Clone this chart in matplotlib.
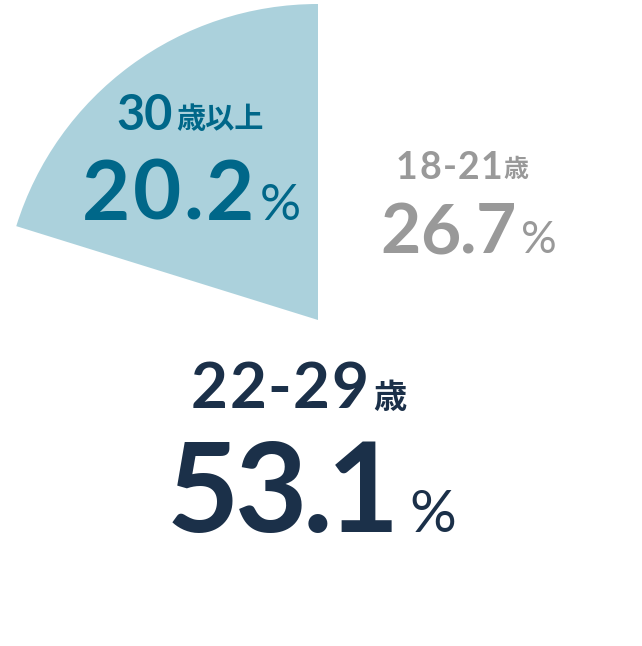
import matplotlib.pyplot as plt
from matplotlib import font_manager
from matplotlib.ft2font import FT2Font

# 年齢構成
labels = ['18-21', '22-29', '30']
suffixes = ['歳', '歳', '歳以上']
values = [26.7, 53.1, 20.2]
wedge_colors = ['white', 'white', '#abd1dc']
text_colors = ['#999999', '#1b3049', '#006789']

W, H = 642, 646
DPI = 100
fig = plt.figure(figsize=(W / DPI, H / DPI), dpi=DPI)

# pie center (318, 320) px, radius 316 px
cx, cy, r = 318, 320, 316
ax = fig.add_axes([0, 0, 1, 1])
ax.pie(values, colors=wedge_colors, startangle=90, counterclock=False,
       radius=1, wedgeprops=dict(linewidth=0))
ax.set_xlim(-cx / r, (W - cx) / r)
ax.set_ylim(-(H - cy) / r, cy / r)
ax.axis('off')

fam = ['Lato', 'Noto Sans CJK JP']
jp = ['Noto Sans CJK JP', 'DejaVu Sans']


def put(x, y, s, size, color, weight='bold', family=fam):
    return fig.text(x / W, 1 - y / H, s, fontsize=size, color=color,
                    fontweight=weight, family=family, ha='left', va='baseline')


def metrics(s, size, weight):
    path = font_manager.findfont(font_manager.FontProperties(family='Lato', weight=weight))
    font = FT2Font(path, hinting_factor=1)
    font.set_size(size, DPI)
    out = []
    for ch in s:
        g = font.load_char(ord(ch))
        out.append((g.linearHoriAdvance / 65536, g.horiBearingX / 64, g.width / 64))
    return out


def place(x0, x1, y, s, size, color, weight='bold'):
    # インクの左端を x0、右端を x1 に合わせて字間を調整
    m = metrics(s, size, weight)
    n = len(s)
    if x1 is None or n == 1:
        put(x0 - m[0][1], y, s, size, color, weight)
        return
    natural = sum(a for a, _, _ in m[:-1]) + m[-1][1] + m[-1][2] - m[0][1]
    track = (x1 - x0 - natural) / (n - 1)
    x = x0 - m[0][1]
    for i, ch in enumerate(s):
        put(x, y, ch, size, color, weight)
        x += m[i][0] + track


# 18-21歳
c = text_colors[0]
place(398, 500, 179, labels[0], 27, c)
put(503, 177, suffixes[0], 18, c, family=jp)
place(383, 513, 253, f'{values[0]:.1f}', 50, c)
place(523, None, 253, '%', 32, c, weight='normal')

# 22-29歳
c = text_colors[1]
place(193, 365, 408, labels[1], 46, c)
put(373, 408, suffixes[1], 24, c, family=jp)
place(172, 392, 532, f'{values[1]:.1f}', 90, c)
place(412, None, 532, '%', 42, c, weight='normal')

# 30歳以上
c = text_colors[2]
place(117, None, 130, labels[2], 35, c)
put(176, 128, suffixes[2], 21, c, family=jp)
place(85, 250, 220, f'{values[2]:.1f}', 60, c)
place(262, None, 220, '%', 37, c, weight='normal')

fig.savefig('out.png', dpi=DPI)
